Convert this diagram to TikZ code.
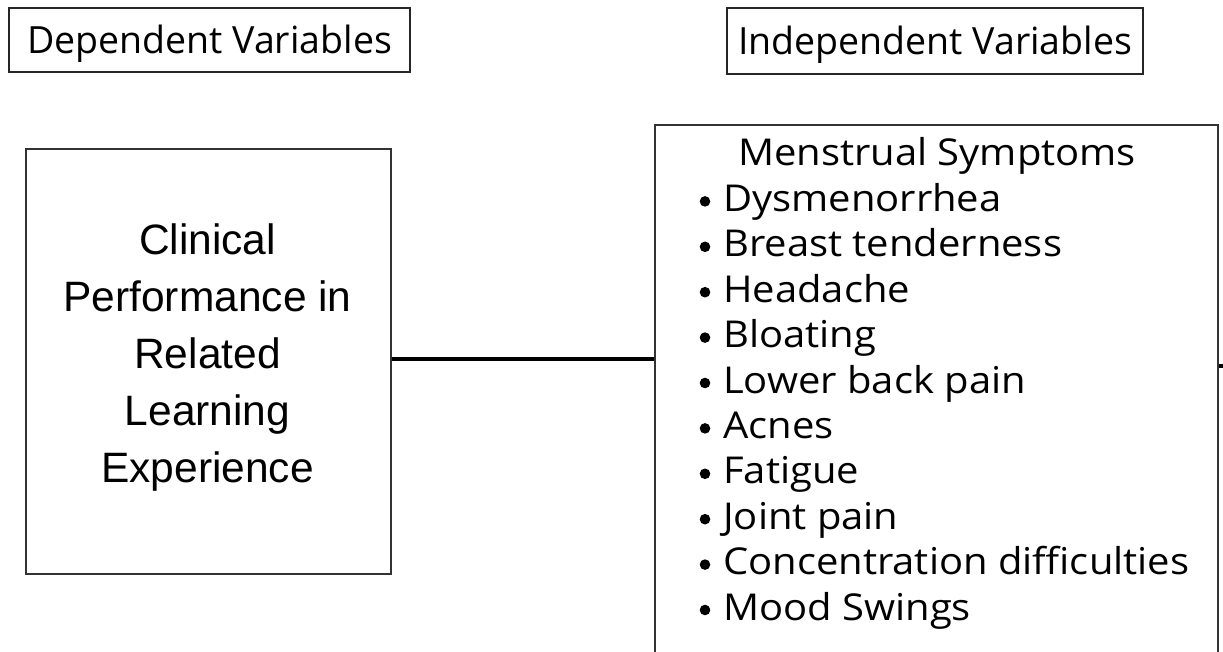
\documentclass[tikz,border=0pt]{standalone}
\usepackage{fontspec}
\setmainfont{Open Sans}
\newfontfamily\listf[FakeStretch=1.08]{Open Sans}
\newfontfamily\arialf{Liberation Sans}
\begin{document}
\begin{tikzpicture}[x=1pt,y=-1pt,
  lbl/.style={draw=black!85,line width=2.2pt,inner sep=0pt},
  mainbox/.style={draw=black!80,line width=2pt},
  link/.style={draw=black,line width=3.2pt},
  item/.style={anchor=base west,inner sep=0pt,font=\listf\fontsize{37}{40}\selectfont}]
\useasboundingbox (0,0) rectangle (1223,652);
\fill[white] (0,0) rectangle (1223,652);
% header boxes
\draw[lbl] (9,8) rectangle (410,72);
\node[anchor=base] (dep) at (209.5,54) {\fontsize{37.5}{40}\selectfont Dependent Variables};
\draw[lbl] (727,8) rectangle (1143,74);
\node[anchor=base] (indep) at (935,55) {\fontsize{37.5}{40}\selectfont Independent Variables};
% left box
\node[mainbox,minimum width=365pt,minimum height=425pt,anchor=north west,inner sep=0pt] (dv) at (25,148) {};
\node[align=center,font=\arialf\fontsize{42.5}{57}\selectfont] (dvt) at (207.5,358) {Clinical\\Performance in\\Related\\Learning\\Experience};
% right box
\node[mainbox,minimum width=563pt,minimum height=560pt,anchor=north west,inner sep=0pt] (iv) at (654,124) {};
\node[anchor=base,font=\listf\fontsize{37}{40}\selectfont] (ms) at (937,166) {Menstrual Symptoms};
\foreach \t [count=\i] in {Dysmenorrhea,Breast tenderness,Headache,Bloating,Lower back pain,Acnes,Fatigue,Joint pain,Concentration difficulties,Mood Swings}{
  \fill (705,{166+45.4*\i-10}) circle (5.3pt);
  \node[item] at (723,{166+45.4*\i}) {\t};
}
\draw[link] (dv.east |- 0,359) -- (iv.west |- 0,359);
\coordinate (rend) at (1226,366);
\draw[link] (iv.east |- rend) -- (rend);
\end{tikzpicture}
\end{document}
